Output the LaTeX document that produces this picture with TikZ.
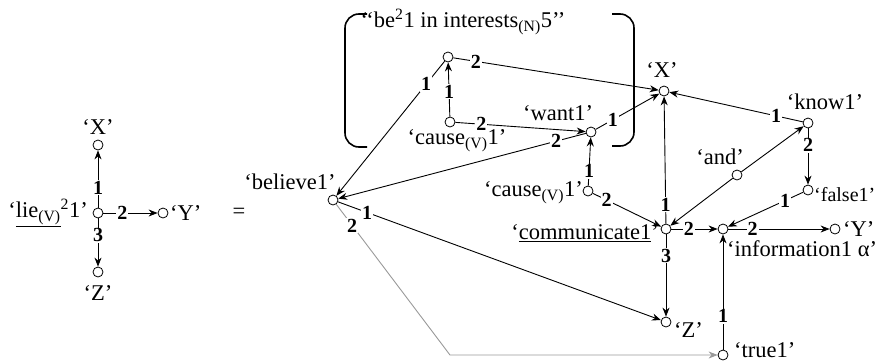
\documentclass[tikz,border=0pt]{standalone}
\usepackage{fontspec}
\setmainfont{Liberation Serif}
\usetikzlibrary{arrows.meta}
\begin{document}
\begin{tikzpicture}[
        x=1pt, y=-1pt,
        font=\fontsize{22.5}{25}\selectfont,
        dot/.style={draw, circle, minimum size=10pt, inner sep=0pt, line width=0.8pt},
        word/.style={inner sep=1pt},
        num/.style={font=\fontsize{20}{22}\selectfont\bfseries, fill=white, inner sep=1pt, text=black},
        arr/.style={draw, line width=0.9pt, -{Stealth[length=9pt, width=7pt]}},
        pale/.style={arr, draw=black!40},
        bracket/.style={draw, line width=1.6pt, rounded corners=14pt}
    ]
        \clip (0,0) rectangle (877,362);

        \node[dot] (lie) at (98,213) {};
        \node[dot] (lX) at (98,145) {};
        \node[dot] (lY) at (163,213) {};
        \node[dot] (lZ) at (98,272) {};
        \node[word, anchor=east] (lielabel) at (89,213) {‘\underline{lie\textsubscript{(V)}}\textsuperscript{2}1’};
        \node[word] (lXlabel) at (98,127) {‘X’};
        \node[word, anchor=west] (lYlabel) at (169,213) {‘Y’};
        \node[word] (lZlabel) at (98,293) {‘Z’};
        \node[word] (equals) at (239,213) {=};

        \draw[arr] (lie) -- node[num, pos=0.35] {1} (lX);
        \draw[arr] (lie) -- node[num, pos=0.35] {2} (lY);
        \draw[arr] (lie) -- node[num, pos=0.35] {3} (lZ);

        \draw[bracket] (367,14) -- (345,14) -- (345,147) -- (367,147);
        \draw[bracket] (612,14) -- (634,14) -- (634,146) -- (612,146);

        \node[dot] (believe) at (333,200) {};
        \node[dot] (be) at (448,57) {};
        \node[dot] (cause) at (450,122) {};
        \node[dot] (want) at (591,132) {};
        \node[dot] (X) at (664,91) {};
        \node[dot] (causeb) at (588,191) {};
        \node[dot] (communicate) at (666,229) {};
        \node[dot] (Z) at (666,322) {};
        \node[dot] (information) at (723,229) {};
        \node[dot] (Y) at (835,229) {};
        \node[dot] (true) at (723,355) {};
        \node[dot] (know) at (808,123) {};
        \node[dot] (and) at (737,175) {};
        \node[dot] (false) at (808,190) {};
        \coordinate (bend) at (450,355);

        \node[word] (believelabel) at (290,182) {‘believe1’};
        \node[word] (belabel) at (463,22) {‘‘be\textsuperscript{2}1 in interests\textsubscript{(N)}5’’};
        \node[word] (causelabel) at (457,141) {‘cause\textsubscript{(V)}1’};
        \node[word] (wantlabel) at (558,113) {‘want1’};
        \node[word] (Xlabel) at (662,70) {‘X’};
        \node[word, anchor=east] (causeblabel) at (584,193) {‘cause\textsubscript{(V)}1’};
        \node[word, anchor=east] (communicatelabel) at (660,233) {‘\underline{communicate1}’};
        \node[word, anchor=west] (Zlabel) at (673,330) {‘Z’};
        \node[word, anchor=west] (informationlabel) at (726,249) {‘information1 α’};
        \node[word, anchor=west] (Ylabel) at (842,229) {‘Y’};
        \node[word, anchor=west] (truelabel) at (733,350) {‘true1’};
        \node[word] (knowlabel) at (825,102) {‘know1’};
        \node[word] (andlabel) at (720,157) {‘and’};
        \node[word, anchor=west, font=\fontsize{20}{22}\selectfont] (falselabel) at (813,195) {‘false1’};

        \draw[arr] (be) -- node[num, pos=0.11] {2} (X);
        \draw[arr] (be) -- node[num, pos=0.17] {1} (believe);
        \draw[arr] (cause) -- node[num, pos=0.46] {1} (be);
        \draw[arr] (cause) -- node[num, pos=0.2] {2} (want);
        \draw[arr] (want) -- node[num, pos=0.27] {1} (X);
        \draw[arr] (want) -- node[num, pos=0.12] {2} (believe);
        \draw[arr] (causeb) -- node[num, pos=0.3] {1} (want);
        \draw[arr] (causeb) -- node[num, pos=0.2] {2} (communicate);
        \draw[arr] (communicate) -- node[num, pos=0.15] {1} (X);
        \draw[arr] (communicate) -- node[num, pos=0.26] {3} (Z);
        \draw[arr] (communicate) -- node[num, pos=0.38] {2} (information);
        \draw[arr] (information) -- node[num, pos=0.24] {2} (Y);
        \draw[arr] (true) -- node[num, pos=0.29] {1} (information);
        \draw[arr] (believe) -- node[num, pos=0.09] {1} (Z);
        \draw[pale] (believe) -- node[num, pos=0.14] {2} (bend) -- (true);
        \draw[arr] (know) -- node[num, pos=0.2] {1} (X);
        \draw[arr] (know) -- node[num, pos=0.3] {2} (false);
        \draw[arr] (false) -- node[num, pos=0.24] {1} (information);
        \draw[arr] (and) -- (know);
        \draw[arr] (and) -- (communicate);
    \end{tikzpicture}
\end{document}
